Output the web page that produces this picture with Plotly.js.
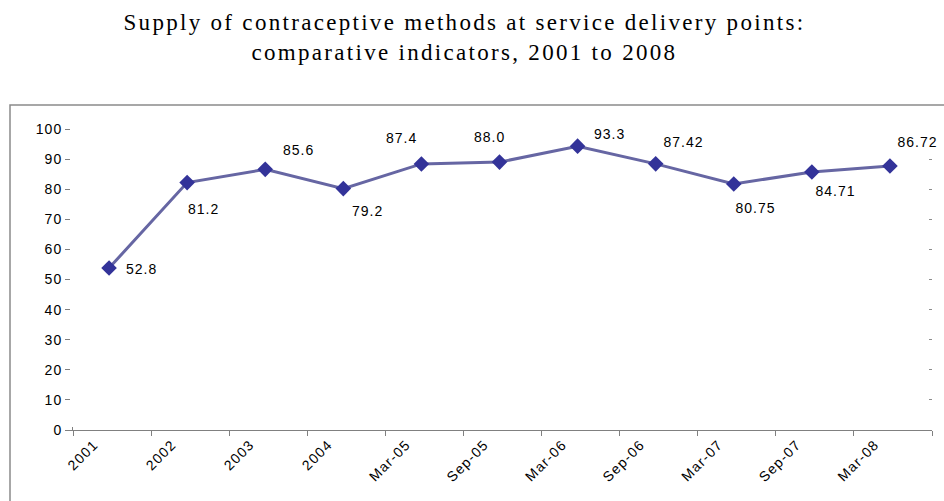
<!DOCTYPE html>
<html>
<head>
<meta charset="utf-8">
<script src="https://cdn.plot.ly/plotly-3.0.1.min.js"></script>
<style>
html,body{margin:0;padding:0;background:#fff;}
#chart{width:944px;height:501px;}
#chart .gtitle{letter-spacing:2.3px;}
#chart .xtick text{letter-spacing:1.2px;}
#chart .ytick text,#chart .annotation-text{letter-spacing:1px;}
</style>
</head>
<body>
<div id="chart"></div>
<script>
// ---- data ----
const categories = ["2001", "2002", "2003", "2004", "Mar-05", "Sep-05", "Mar-06", "Sep-06", "Mar-07", "Sep-07", "Mar-08"];
const values = [52.8, 81.2, 85.6, 79.2, 87.4, 88.0, 93.3, 87.42, 80.75, 84.71, 86.72];
const decimals = [1, 1, 1, 1, 1, 1, 1, 2, 2, 2, 2];
const yTicks = [0, 10, 20, 30, 40, 50, 60, 70, 80, 90, 100];

// ---- label offsets (pixels, style only) ----
const labelOffsets = [[32, -1], [16, -26], [33, 19], [24, -22], [-20, 26], [-10, 25], [32, 12], [28, 22], [22, -24], [24, -19], [28, 24]];

const W = 944, H = 501;
const mL = 70, mR = 12, mT = 126, mB = 71;
const pw = W - mL - mR, ph = H - mT - mB;
const dx = 3 / pw, dy = 3 / ph;

// shadow drawn on the first (visible-axis) subplot, shifted 3px right/down
const shadowTrace = {
  x: categories, y: values, type: 'scatter', mode: 'markers',
  marker: {symbol: 'diamond', size: 12, color: '#000000', line: {width: 0}},
  cliponaxis: false, hoverinfo: 'skip'
};
// main series drawn on the overlay subplot (on top)
const mainTrace = {
  x: categories, y: values, type: 'scatter', mode: 'lines+markers',
  xaxis: 'x2', yaxis: 'y2',
  line: {color: '#6666a3', width: 3},
  marker: {symbol: 'diamond', size: 12, color: '#333399', line: {width: 0}},
  cliponaxis: false, hoverinfo: 'x+y'
};

// category axes: annotations addressed by category index
const annotations = values.map((v, i) => ({
  xref: 'x2', yref: 'y2',
  x: i, y: v, text: v.toFixed(decimals[i]),
  showarrow: false, xshift: labelOffsets[i][0], yshift: labelOffsets[i][1],
  font: {family: 'Liberation Sans, Arial, sans-serif', size: 14, color: '#000'}
}));

const axisFont = {family: 'Liberation Sans, Arial, sans-serif', size: 14, color: '#000'};

const layout = {
  width: W, height: H,
  margin: {l: mL, r: mR, t: mT, b: mB},
  paper_bgcolor: '#fff', plot_bgcolor: '#fff',
  showlegend: false,
  title: {
    text: 'Supply of contraceptive methods at service delivery points:<br>comparative indicators, 2001 to 2008',
    font: {family: 'Liberation Serif, Times New Roman, serif', size: 23, color: '#000'},
    x: 0.492, xanchor: 'center', y: 0.94, yanchor: 'top'
  },
  xaxis: {
    type: 'category', domain: [dx, 1], range: [-0.5, 10.5],
    tickson: 'boundaries', ticks: 'outside', ticklen: 5, tickcolor: '#808080',
    showline: true, linecolor: '#808080', linewidth: 1,
    showgrid: false, tickangle: -45, ticklabelshift: -18,
    tickfont: axisFont,
    zeroline: false, fixedrange: true
  },
  yaxis: {
    domain: [0, 1 - dy], range: [0, 100], tickvals: yTicks,
    ticks: 'outside', ticklen: 7, tickcolor: '#808080',
    showline: true, linecolor: '#808080', linewidth: 1,
    showgrid: true, gridcolor: '#8c8c8c', gridwidth: 1,
    tickfont: axisFont,
    zeroline: false, fixedrange: true
  },
  xaxis2: {type: 'category', domain: [0, 1 - dx], range: [-0.5, 10.5], visible: false, anchor: 'y2', fixedrange: true},
  yaxis2: {domain: [dy, 1], range: [0, 100], visible: false, anchor: 'x2', fixedrange: true},
  annotations: annotations,
  shapes: [{
    type: 'rect', xref: 'paper', yref: 'paper',
    xsizemode: 'pixel', ysizemode: 'pixel', xanchor: 0, yanchor: 1,
    x0: -60, x1: 900, y0: 21, y1: -420,
    line: {color: '#8a8a8a', width: 1.5}, fillcolor: 'rgba(0,0,0,0)', layer: 'below'
  }]
};

Plotly.newPlot('chart', [shadowTrace, mainTrace], layout, {displayModeBar: false, staticPlot: true});
</script>
</body>
</html>
